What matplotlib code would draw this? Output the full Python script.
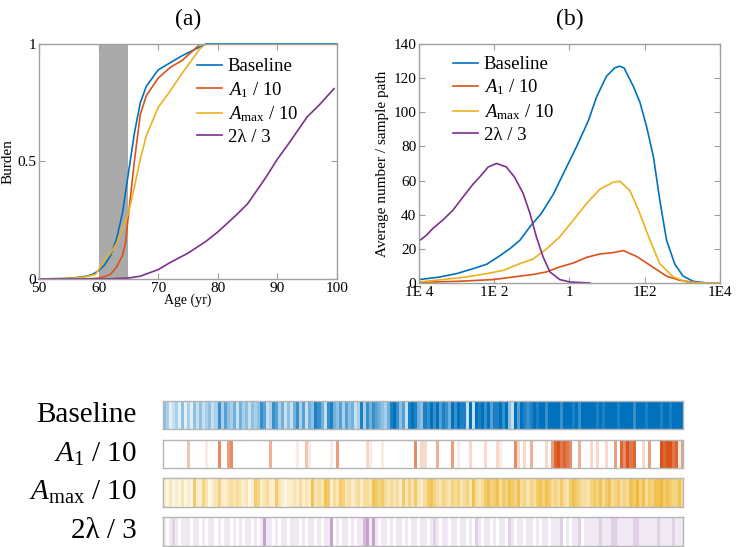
import numpy as np
import matplotlib
matplotlib.use('Agg')
import matplotlib.pyplot as plt
from matplotlib.colors import LinearSegmentedColormap

plt.rcParams['font.family'] = ['Liberation Serif', 'DejaVu Serif']
plt.rcParams['mathtext.fontset'] = 'custom'
plt.rcParams['mathtext.rm'] = 'Liberation Serif'
plt.rcParams['mathtext.it'] = 'Liberation Serif:italic'

# ---- data ----
labels = ['Baseline', r'$A_1$ / 10', r'$A_{\mathrm{max}}$ / 10', '2λ / 3']
colors = ['#0072BD', '#D95319', '#EDB120', '#7E2F8E']

# panel (a): burden vs age
age_base = [50, 54, 56, 58, 59, 60, 61, 62, 63, 64, 65, 66, 67, 68, 70, 72, 74, 76, 78, 100]
bur_base = [0, 0.002, 0.005, 0.012, 0.02, 0.035, 0.06, 0.1, 0.17, 0.28, 0.45, 0.62, 0.75, 0.82, 0.89, 0.92, 0.95, 0.975, 1.0, 1.0]
age_a1 = [50, 56, 58, 59, 60, 61, 62, 63, 64, 64.5, 65, 66, 67, 68, 70, 72, 74, 76, 77, 100]
bur_a1 = [0, 0, 0.001, 0.002, 0.004, 0.01, 0.02, 0.05, 0.1, 0.15, 0.27, 0.5, 0.7, 0.78, 0.855, 0.9, 0.93, 0.975, 1.0, 1.0]
age_amax = [50, 55, 57, 58, 59.5, 60, 61, 62, 63, 64, 65, 66, 67, 68, 70, 72, 74, 76, 77, 78, 100]
bur_amax = [0, 0.002, 0.006, 0.01, 0.02, 0.04, 0.08, 0.11, 0.15, 0.21, 0.28, 0.39, 0.51, 0.61, 0.73, 0.8, 0.875, 0.945, 0.98, 1.0, 1.0]
age_lam = [50, 60, 62, 65, 67, 70, 72, 75, 78, 80, 83, 85, 88, 90, 92, 95, 97, 99.5]
bur_lam = [0, 0, 0.001, 0.004, 0.012, 0.04, 0.07, 0.11, 0.16, 0.2, 0.27, 0.32, 0.43, 0.51, 0.58, 0.69, 0.74, 0.81]

# panel (b): average number / sample path vs log10(x)
lx_base = [-4, -3.45, -3.0, -2.56, -2.2, -1.85, -1.59, -1.32, -1.05, -0.75, -0.43, -0.12, 0.19, 0.5,
           0.72, 0.98, 1.2, 1.33, 1.45, 1.7, 1.87, 2.05, 2.23, 2.4, 2.58, 2.8, 3.02, 3.29, 3.65, 4.0]
av_base = [2, 3.5, 5.5, 8.4, 11, 16, 20, 25, 33, 40.7, 52, 66, 80, 95,
           109, 121, 126, 127, 126, 115, 106, 91.5, 74, 48.5, 25, 11, 4, 1, 0, 0]
lx_a1 = [-4, -2.95, -2.03, -1.5, -0.97, -0.61, -0.26, 0.1, 0.45, 0.81, 1.16, 1.43, 1.78, 2.14, 2.58, 2.93, 3.29, 3.65, 4.0]
av_a1 = [0.4, 1, 2, 3.5, 5, 6.5, 9.4, 11.7, 15, 17, 17.8, 19, 15.6, 10.4, 4, 1.6, 0.4, 0, 0]
lx_amax = [-4, -3.37, -2.75, -2.2, -1.76, -1.32, -0.97, -0.61, -0.26, 0.1, 0.45, 0.81, 1.16, 1.34,
           1.61, 1.87, 2.14, 2.4, 2.76, 3.11, 3.55, 4.0]
av_amax = [0.6, 2, 3.5, 5.5, 7.4, 11.3, 14, 20, 27, 36.8, 46.5, 55, 59, 59.6,
           54, 40.7, 25, 11.3, 3.5, 0.6, 0, 0]
lx_lam = [-4, -3.8, -3.63, -3.36, -3.1, -2.83, -2.56, -2.39, -2.16, -1.94, -1.68, -1.46, -1.23,
          -1.05, -0.88, -0.7, -0.52, -0.26, 0.01, 0.54]
av_lam = [24.6, 28, 32, 37, 42.6, 50.4, 58, 62, 68, 70, 68, 62, 52.4,
          40.7, 27, 15.2, 6.5, 2, 0.6, 0]
xticks_b = [1e-4, 1e-2, 1, 1e2, 1e4]
xticklabels_b = ['1E 4', '1E 2', '1', '1E2', '1E4']

# stripe intensities (0 = white, 9 = full colour), left to right
stripes_base = ("4312314131" "4242342373" "6435253424" "3476237635" "242"
                "5736254875" "2785463645" "2383757654" "3589746289" "854"
                "8797968759" "7988292989" "7968897942" "9698789899" "799"
                "9979998979" "9999898999" "9899997999" "8999989989" "999")
stripes_a1 = ("0000000030" "0000100060" "0560000000" "0000040000" "000"
              "0100310000" "0010500000" "0000210001" "0000000000" "602"
              "2000400005" "0100020000" "2000210000" "6202040000" "205"
              "8978760040" "0020200200" "5086978002" "0500098997" "815")
stripes_amax = ("2131213121" "6225312352" "2343432312" "6523422632" "122"
                "3242327343" "7624365342" "3424437656" "4343426353" "632"
                "4675435435" "4534537434" "6756746576" "5745354675" "764"
                "5464367654" "4356574674" "5645476857" "4657786765" "574")
stripes_lam = ("1012101110" "1101011010" "1101010110" "1014110101" "101"
               "1101011010" "1140101101" "0113414101" "1010110101" "101"
               "1012101101" "1011010210" "1101011021" "0110110101" "101"
               "1120101120" "1111121112" "2111112211" "1111211112" "111")
stripes = [stripes_base, stripes_a1, stripes_amax, stripes_lam]

# ---- figure ----
W, H = 736, 547
fig = plt.figure(figsize=(W / 100, H / 100), dpi=100)

def px_axes(l, t, r, b):
    return fig.add_axes([l / W, 1 - b / H, (r - l) / W, (b - t) / H])

def style(ax):
    for s in ax.spines.values():
        s.set_color('#a0a0a0')
        s.set_linewidth(1.0)
    ax.tick_params(direction='in', length=4, color='#a0a0a0', labelsize=11,
                   top=True, right=True, pad=2)
    ax.tick_params(which='minor', length=0)

# (a)
ax1 = px_axes(39, 44, 337, 279)
ax1.axvspan(60, 65, color='#aaaaaa', lw=0, zorder=0)
ax1.plot(age_base, bur_base, color=colors[0], lw=1.2, label=labels[0], clip_on=False)
ax1.plot(age_a1, bur_a1, color=colors[1], lw=1.2, label=labels[1])
ax1.plot(age_amax, bur_amax, color=colors[2], lw=1.2, label=labels[2])
ax1.plot(age_lam, bur_lam, color=colors[3], lw=1.2, label=labels[3])
ax1.set_xlim(50, 100)
ax1.set_ylim(0, 1)
ax1.set_xticks([50, 60, 70, 80, 90, 100])
ax1.set_yticks([0, 0.5, 1])
ax1.set_yticklabels(['0', '0.5', '1'])
style(ax1)
ax1.set_xlabel('Age (yr)', fontsize=10, labelpad=-1)
ax1.set_ylabel('Burden', fontsize=11, labelpad=2)
ax1.set_title('(a)', fontsize=17, pad=14)
ax1.legend(loc='upper left', bbox_to_anchor=(0.53, 0.94), frameon=False, fontsize=13.5,
           handlelength=1.35, handletextpad=0.3, labelspacing=0.25, borderpad=0, borderaxespad=0)

# (b)
ax2 = px_axes(419, 44, 720, 283)
ax2.plot(10.0 ** np.array(lx_base), av_base, color=colors[0], lw=1.2, label=labels[0])
ax2.plot(10.0 ** np.array(lx_a1), av_a1, color=colors[1], lw=1.2, label=labels[1])
ax2.plot(10.0 ** np.array(lx_amax), av_amax, color=colors[2], lw=1.2, label=labels[2])
ax2.plot(10.0 ** np.array(lx_lam), av_lam, color=colors[3], lw=1.2, label=labels[3])
ax2.set_xscale('log')
ax2.set_xlim(1e-4, 1e4)
ax2.set_ylim(0, 140)
ax2.set_xticks(xticks_b)
ax2.set_xticklabels(xticklabels_b)
ax2.set_yticks(range(0, 141, 20))
style(ax2)
ax2.set_ylabel('Average number / sample path', fontsize=11, labelpad=3)
ax2.set_title('(b)', fontsize=17, pad=14)
ax2.legend(loc='upper left', bbox_to_anchor=(0.113, 0.95), frameon=False, fontsize=13.5,
           handlelength=1.35, handletextpad=0.3, labelspacing=0.25, borderpad=0, borderaxespad=0)

# stripes
rows = [(401, 429), (440, 468), (478, 507), (517, 546)]
for (t, b), s, c, lab in zip(rows, stripes, colors, labels):
    ax = px_axes(163, t, 683, b)
    vals = np.array([[int(ch) for ch in s]])
    cmap = LinearSegmentedColormap.from_list('m', ['white', c])
    ax.imshow(vals, aspect='auto', cmap=cmap, vmin=0, vmax=9,
              interpolation='nearest', extent=[0, 1, 0, 1])
    ax.set_xticks([])
    ax.set_yticks([])
    for sp in ax.spines.values():
        sp.set_color('#b5b5b5')
        sp.set_linewidth(1.0)
    fig.text(137 / W, 1 - (t + b) / 2 / H, lab, ha='right', va='center', fontsize=21)

fig.savefig('out.png', dpi=100)
